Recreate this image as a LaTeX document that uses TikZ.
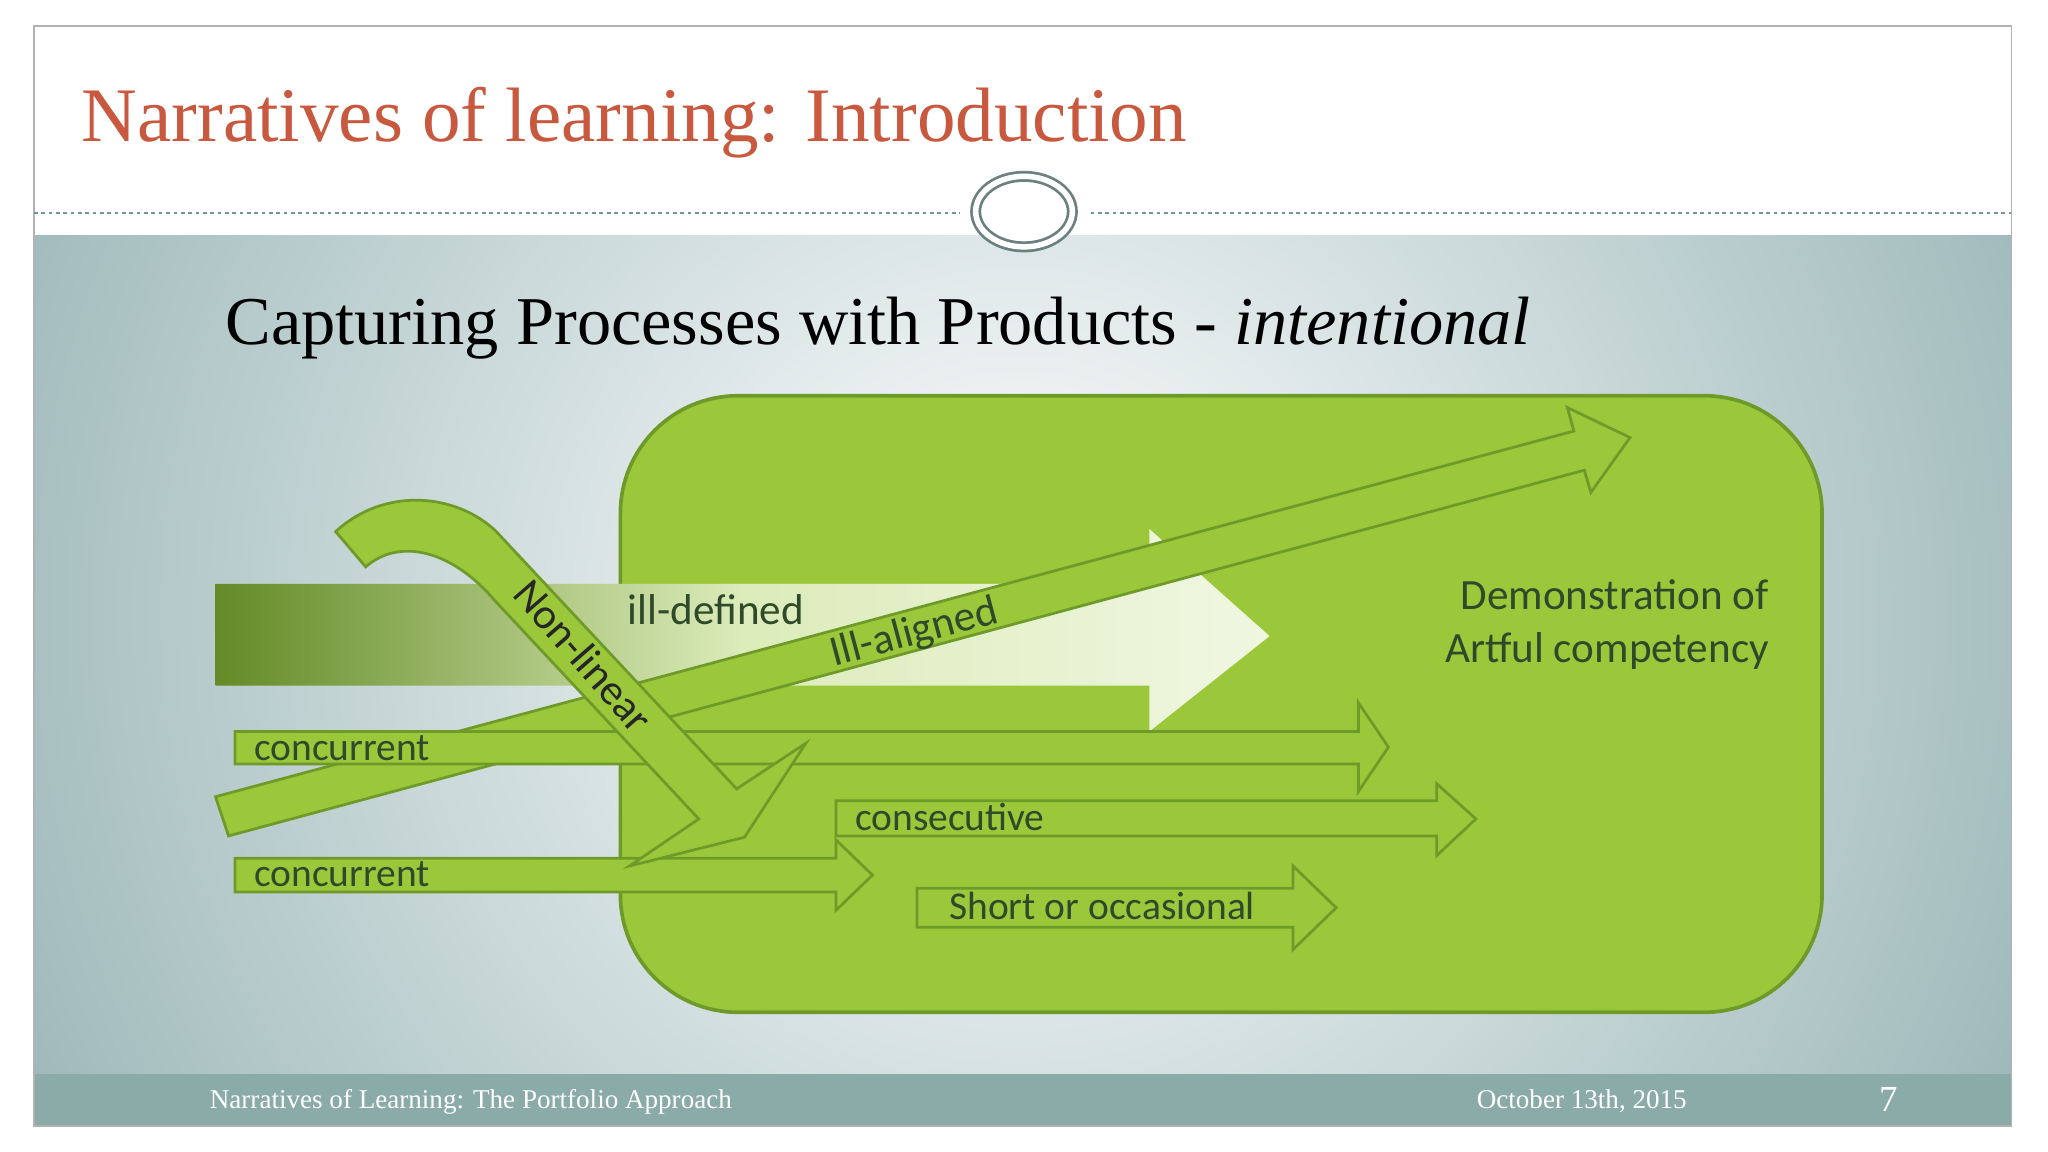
\documentclass[tikz,border=0pt]{standalone}
\usepackage{fontspec}
\setmainfont{Liberation Serif}
\newfontfamily\calfont{Carlito}
\definecolor{titlec}{HTML}{C8583E}
\definecolor{bgteal}{HTML}{9AB6B7}
\definecolor{foot}{HTML}{8AABA8}
\definecolor{grn}{HTML}{9BC83A}
\definecolor{grnd}{HTML}{6E9A2A}
\definecolor{txt}{HTML}{2F4A2A}
\tikzset{
  arr/.style={fill=grn, draw=grnd, line width=0.6pt, line join=miter},
  lab/.style={font=\calfont\fontsize{8.6}{10}\selectfont, text=txt, inner sep=0pt, anchor=base west},
}
\begin{document}
\begin{tikzpicture}[x=0.1mm,y=-0.1mm]
\useasboundingbox (0,0) rectangle (1568,882);
\fill[white] (0,0) rectangle (1568,882);
% content background
\begin{scope}
\clip (26,180) rectangle (1540,822);
\shade[inner color=white, outer color=bgteal] (780,470) circle [radius=880];
\end{scope}
\fill[foot] (26,822) rectangle (1540,862);
\draw[gray!60, line width=0.4pt] (26,20) rectangle (1540,862);
% title
\node[anchor=base west, inner sep=0, text=titlec, font=\fontsize{16.8}{19}\selectfont] (title) at (62,108) {Narratives of learning: Introduction};
\draw[bgteal!80!black, dash pattern=on 0.8pt off 0.8pt, line width=0.3pt] (26,163) -- (735,163);
\draw[bgteal!80!black, dash pattern=on 0.8pt off 0.8pt, line width=0.3pt] (835,163) -- (1540,163);
\draw[bgteal!70!black, double=white, double distance=1.2pt, line width=0.6pt, fill=white] (784,162) ellipse [x radius=37, y radius=27];
% subtitle
\node[anchor=base west, inner sep=0, font=\fontsize{14.9}{17}\selectfont] (sub) at (172,264) {Capturing Processes with Products - \textit{intentional}};
% big box
\draw[fill=grn, draw=grnd, line width=0.8pt, rounded corners=9mm] (475,303) rectangle (1395,775);
% ill-defined gradient arrow
\shade[left color=grnd!90!black, right color=white!85!grn, middle color=grn!35!white]
  (165,447) -- (880,447) -- (880,405) -- (972,487) -- (880,560) -- (880,525) -- (165,525) -- cycle;
\node[lab, font=\calfont\fontsize{9.4}{11}\selectfont] (ild) at (480,478) {ill-defined};
% ill-aligned
\path[arr] (165,610) -- (1205,330) -- (1200,312) -- (1248,335) -- (1218,377) -- (1213,360) -- (175,640) -- cycle;
\node[lab, anchor=center, rotate=15, font=\calfont\fontsize{9.4}{11}\selectfont] (ila) at (700,485) {Ill-aligned};
% concurrent 1
\path[arr] (180,560) -- (1040,560) -- (1040,538) -- (1063,572) -- (1040,606) -- (1040,585) -- (180,585) -- cycle;
\node[lab] (c1) at (194,582) {concurrent};
% consecutive
\path[arr] (640,613) -- (1100,613) -- (1100,600) -- (1130,627) -- (1100,655) -- (1100,640) -- (640,640) -- cycle;
\node[lab] (cons) at (654,636) {consecutive};
% concurrent 2
\path[arr] (180,657) -- (640,657) -- (640,643) -- (668,670) -- (640,697) -- (640,683) -- (180,683) -- cycle;
\node[lab] (c2) at (194,679) {concurrent};
% short
\path[arr] (702,680) -- (990,680) -- (990,663) -- (1023,695) -- (990,727) -- (990,710) -- (702,710) -- cycle;
\node[lab] (sh) at (726,704) {Short or occasional};
% non-linear
\path[arr] (257,407) .. controls (295,372) and (350,378) .. (380,407) -- (564,604) -- (617,569) -- (570,641) -- (482,663) -- (535,627) -- (379,460) .. controls (345,420) and (305,412) .. (280,434) -- cycle;
\node[lab, anchor=center, rotate=-49, text=black!85, font=\calfont\fontsize{9.4}{11}\selectfont] (nl) at (447,502) {Non-linear};
% demonstration
\node[font=\calfont\fontsize{9.4}{11.5}\selectfont, text=txt, align=right, anchor=north east, inner sep=0] (demo) at (1355,443) {Demonstration of\\Artful competency};
% footer
\node[anchor=base west, inner sep=0, text=white, font=\fontsize{5.9}{7}\selectfont] (f1) at (160,849) {Narratives of Learning: The Portfolio Approach};
\node[anchor=base west, inner sep=0, text=white, font=\fontsize{5.9}{7}\selectfont] (f2) at (1130,849) {October 13th, 2015};
\node[anchor=base west, inner sep=0, text=white, font=\fontsize{8}{9}\selectfont] (f3) at (1438,851) {7};
\end{tikzpicture}
\end{document}
